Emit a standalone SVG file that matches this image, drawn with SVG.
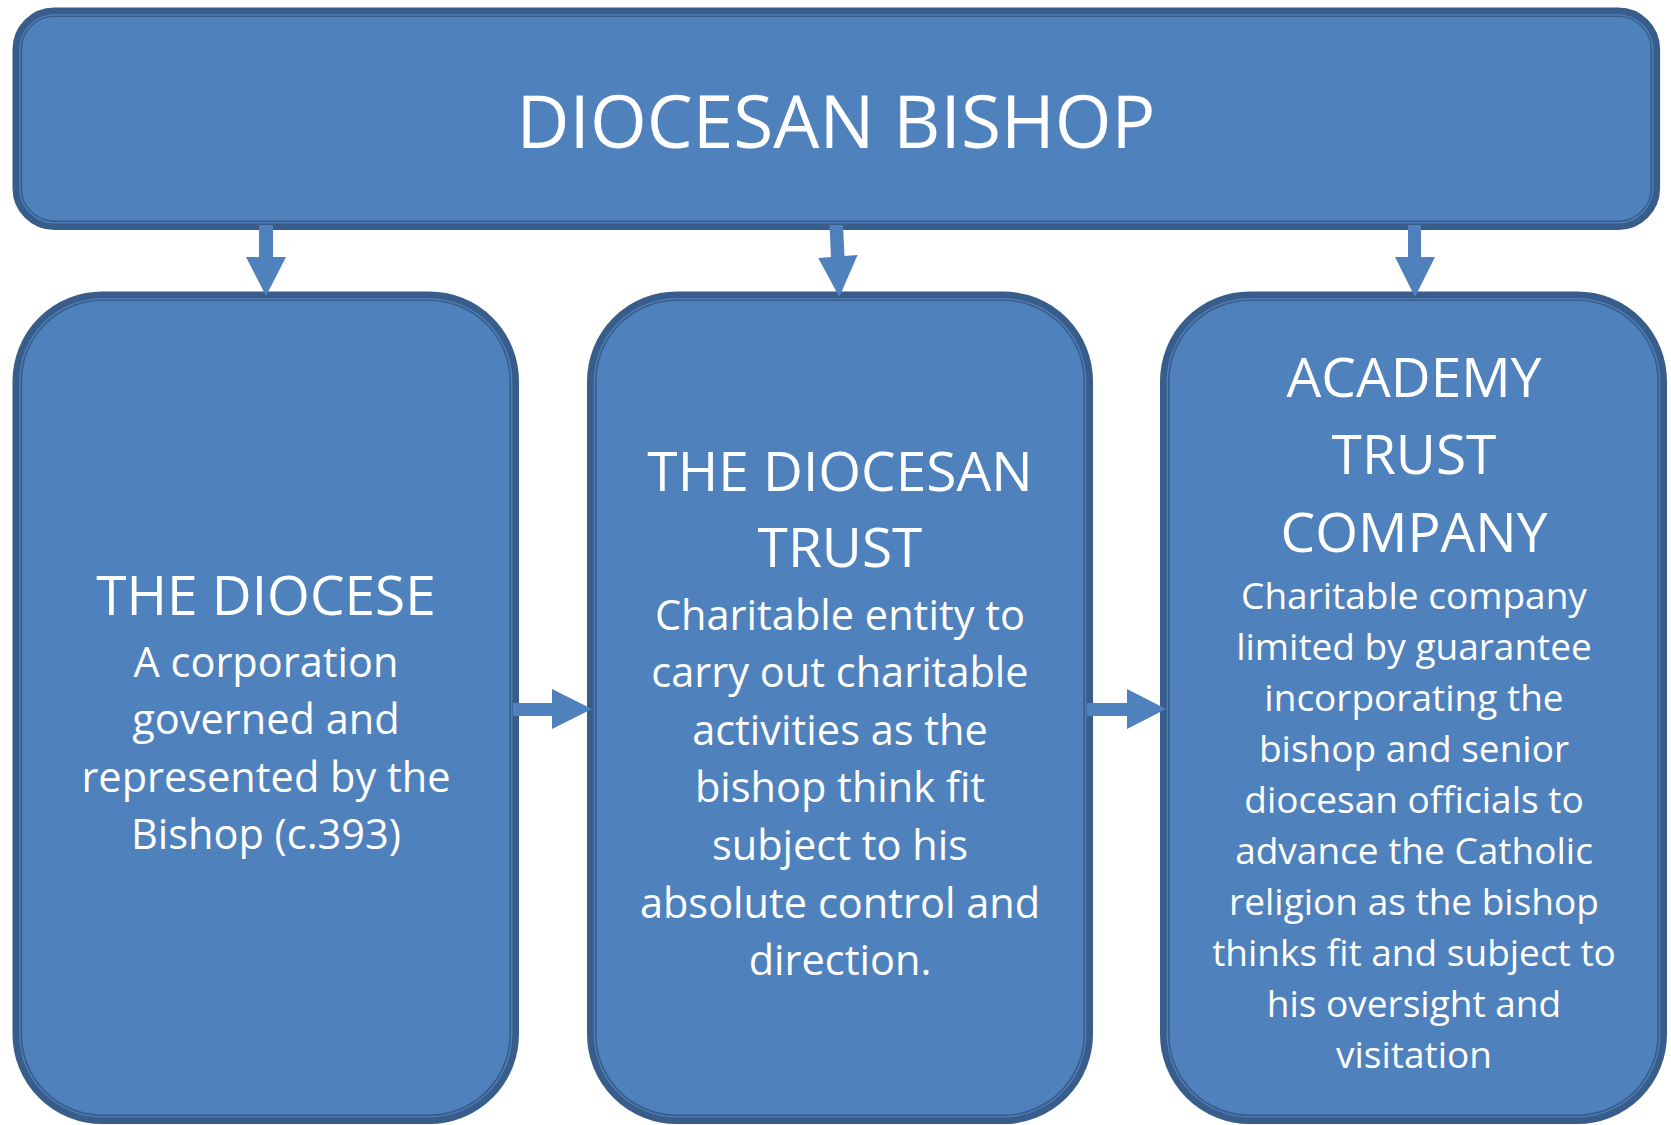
<svg xmlns="http://www.w3.org/2000/svg" width="1671" height="1125" viewBox="0 0 1671 1125">
<style>
.band{fill:#4F81BD;stroke:#385D8A;stroke-width:9.6}
.inner{fill:none;stroke:#4F81BD;stroke-width:1.3}
.arrow{fill:#4F81BD;stroke:none}
text{font-family:"Open Sans","Liberation Sans",sans-serif;fill:#FFFFFF;text-anchor:middle}
.top{font-size:73px}
.title{font-size:55px}
.body{font-size:41.5px}
.body3{font-size:37px}
</style>
<rect width="1671" height="1125" fill="#FFFFFF"/>
<g id="node-bishop">
<rect class="band" x="17.3" y="12.3" width="1638" height="213" rx="37" ry="37"/>
<rect class="inner" x="19.8" y="14.8" width="1633" height="208" rx="35" ry="35"/>
<text class="top" x="836" y="148">DIOCESAN BISHOP</text>
</g>
<g id="node-diocese">
<rect class="band" x="17.3" y="296.3" width="496.9" height="823" rx="85" ry="85"/>
<rect class="inner" x="19.8" y="298.8" width="491.9" height="818" rx="82.5" ry="82.5"/>
<text class="title" x="266" y="615">THE DIOCESE</text>
<text class="body" x="266" y="677">A corporation</text>
<text class="body" x="266" y="734">governed and</text>
<text class="body" x="266" y="792">represented by the</text>
<text class="body" x="266" y="849">Bishop (c.393)</text>
</g>
<g id="node-trust">
<rect class="band" x="591.8" y="296.3" width="496.4" height="823" rx="85" ry="85"/>
<rect class="inner" x="594.3" y="298.8" width="491.4" height="818" rx="82.5" ry="82.5"/>
<text class="title" x="840" y="491">THE DIOCESAN</text>
<text class="title" x="840" y="567">TRUST</text>
<text class="body" x="840" y="630">Charitable entity to</text>
<text class="body" x="840" y="687">carry out charitable</text>
<text class="body" x="840" y="745">activities as the</text>
<text class="body" x="840" y="802">bishop think fit</text>
<text class="body" x="840" y="860">subject to his</text>
<text class="body" x="840" y="918">absolute control and</text>
<text class="body" x="840" y="975">direction.</text>
</g>
<g id="node-academy">
<rect class="band" x="1164.8" y="296.3" width="497.4" height="823" rx="85" ry="85"/>
<rect class="inner" x="1167.3" y="298.8" width="492.4" height="818" rx="82.5" ry="82.5"/>
<text class="title" x="1414" y="397">ACADEMY</text>
<text class="title" x="1414" y="474">TRUST</text>
<text class="title" x="1414" y="552">COMPANY</text>
<text class="body3" x="1414" y="609">Charitable company</text>
<text class="body3" x="1414" y="660">limited by guarantee</text>
<text class="body3" x="1414" y="711">incorporating the</text>
<text class="body3" x="1414" y="762">bishop and senior</text>
<text class="body3" x="1414" y="813">diocesan officials to</text>
<text class="body3" x="1414" y="864">advance the Catholic</text>
<text class="body3" x="1414" y="915">religion as the bishop</text>
<text class="body3" x="1414" y="966">thinks fit and subject to</text>
<text class="body3" x="1414" y="1017">his oversight and</text>
<text class="body3" x="1414" y="1068">visitation</text>
</g>
<g id="connectors">
<polygon class="arrow" points="259,225 273,225 273,257 286,257 266,296 246,257 259,257"/>
<polygon class="arrow" points="829.5,225 843,225 844.5,256 857.6,255 839.3,297 818.3,258 831,257"/>
<polygon class="arrow" points="1408,225 1421,225 1421,257 1435,257 1415,297 1395,257 1408,257"/>
<polygon class="arrow" points="513,703 552,703 552,689 592,709 552,729 552,716 513,716"/>
<polygon class="arrow" points="1087,703 1127,703 1127,689 1166,709 1127,729 1127,716 1087,716"/>
</g>
</svg>
